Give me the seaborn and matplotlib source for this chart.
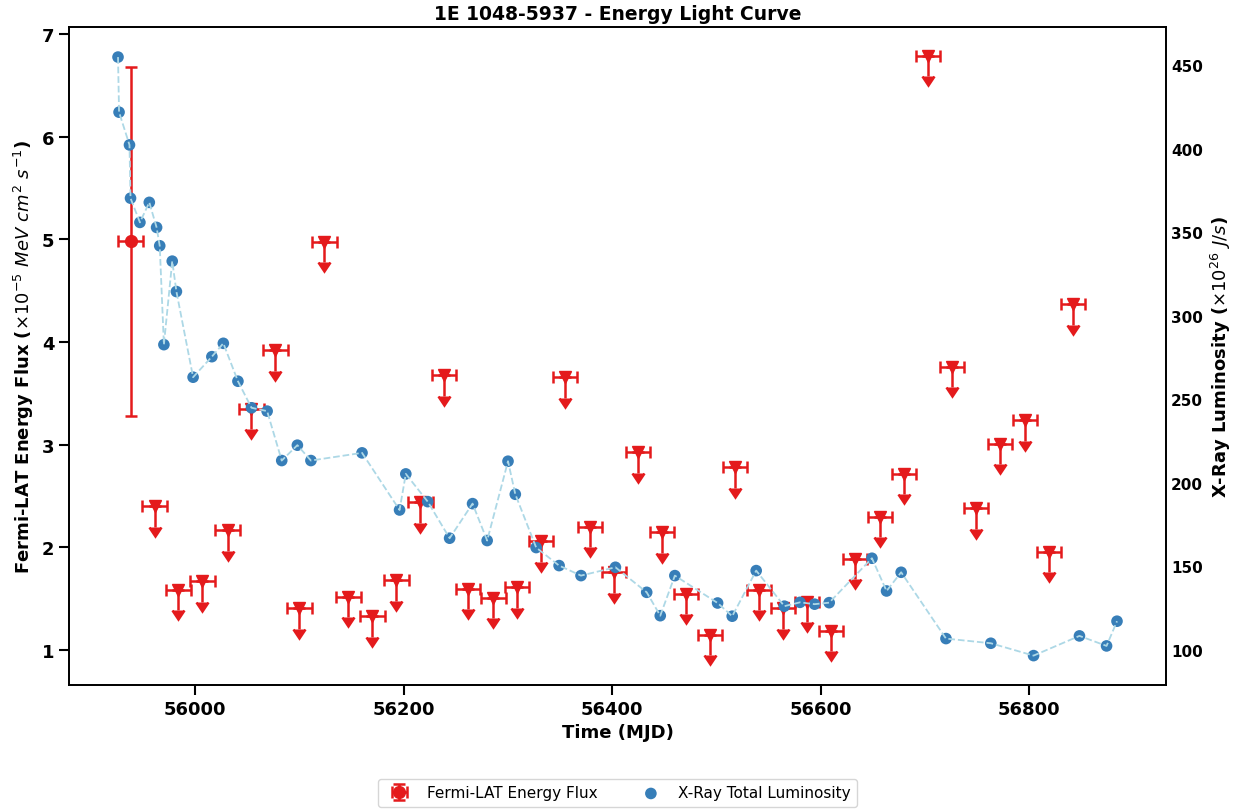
import matplotlib
matplotlib.use("Agg")
import matplotlib.pyplot as plt
import pandas as pd
import seaborn as sns

sns.set_style("white")
plt.rcParams.update({"text.color": "black", "axes.labelcolor": "black",
                     "xtick.color": "black", "ytick.color": "black",
                     "axes.edgecolor": "black"})

# X-ray total luminosity (x10^26 J/s) vs time (MJD)
xray_mjd = [55926, 55927, 55937, 55938, 55947, 55956, 55963, 55966, 55970, 55978,
            55982, 55998, 56016, 56027, 56041, 56054, 56069, 56083, 56098, 56111,
            56160, 56196, 56202, 56223, 56244, 56266, 56280, 56300, 56307, 56327,
            56349, 56370, 56403, 56433, 56446, 56460, 56501, 56515, 56538, 56565,
            56580, 56594, 56608, 56649, 56663, 56677, 56720, 56763, 56804, 56848,
            56874, 56884]
xray_lum = [455.0, 422.0, 402.4, 370.5, 356.0, 368.0, 353.0, 342.0, 282.8, 332.8,
            314.6, 263.3, 275.6, 283.6, 260.9, 245.0, 243.0, 213.4, 222.6, 213.4,
            218.0, 183.8, 205.4, 188.8, 166.9, 187.6, 165.5, 213.0, 193.2, 161.3,
            150.5, 144.5, 149.5, 134.5, 120.5, 144.5, 128.1, 120.2, 147.5, 126.2,
            128.5, 127.4, 128.3, 154.9, 135.3, 146.5, 106.8, 104.0, 96.6, 108.4,
            102.4, 117.2]

# Fermi-LAT detection (x10^-5 MeV cm^2 s^-1)
det_mjd = [55938]
det_flux = [4.985]
det_err = [1.70]

# Fermi-LAT upper limits
ul_mjd = [55961, 55984, 56007, 56031, 56054, 56077, 56100, 56124, 56147, 56170,
          56193, 56216, 56239, 56262, 56286, 56309, 56332, 56355, 56379, 56402,
          56425, 56448, 56471, 56494, 56518, 56541, 56564, 56587, 56610, 56633,
          56657, 56680, 56703, 56726, 56749, 56772, 56796, 56819, 56842]
ul_flux = [2.40, 1.59, 1.67, 2.17, 3.35, 3.92, 1.41, 4.98, 1.52, 1.33,
           1.68, 2.44, 3.68, 1.60, 1.51, 1.61, 2.06, 3.66, 2.20, 1.76,
           2.93, 2.15, 1.55, 1.15, 2.78, 1.59, 1.41, 1.47, 1.19, 1.89,
           2.30, 2.72, 6.79, 3.76, 2.38, 3.01, 3.24, 1.96, 4.37]

bin_half_width = 11.6
ul_arrow = 0.2

red, blue = sns.color_palette("Set1")[:2]

fig = plt.figure(figsize=(12.48, 8.12), dpi=100)
ax = fig.add_axes([0.05529, 0.15517, 0.87901, 0.81034])
ax2 = ax.twinx()

err_kw = dict(color=red, ecolor=red, capsize=4.2, elinewidth=1.8, capthick=1.8, ms=8.5)
ax.errorbar(det_mjd, det_flux, xerr=bin_half_width, yerr=det_err, fmt="o",
            label="Fermi-LAT Energy Flux", **err_kw)
ax.errorbar(ul_mjd, ul_flux, xerr=bin_half_width, yerr=ul_arrow, uplims=True,
            fmt="v", **err_kw)

xr = pd.DataFrame({"mjd": xray_mjd, "lum": xray_lum})
sns.scatterplot(data=xr, x="mjd", y="lum", ax=ax2, color=blue, s=70,
                edgecolor="none", label="X-Ray Total Luminosity", zorder=3)
sns.lineplot(data=xr, x="mjd", y="lum", ax=ax2, color="lightblue",
             linestyle="--", linewidth=1.3, sort=False, zorder=4)

ax.set_xlim(55879, 56931)
ax.set_ylim(0.66, 7.07)
ax2.set_ylim(79, 473)
ax.set_xticks([56000, 56200, 56400, 56600, 56800])
ax.set_yticks([1, 2, 3, 4, 5, 6, 7])
ax2.set_yticks([100, 150, 200, 250, 300, 350, 400, 450])

ax.set_title("1E 1048-5937 - Energy Light Curve", fontsize=13.5, fontweight="bold")
ax.set_xlabel("Time (MJD)", fontsize=13, fontweight="bold")
ax.set_ylabel(r"Fermi-LAT Energy Flux ($\times10^{-5}$ $MeV$ $cm^2$ $s^{-1}$)",
              fontsize=13, fontweight="bold")
ax2.set_ylabel(r"X-Ray Luminosity ($\times10^{26}$ $J/s$)",
               fontsize=13, fontweight="bold")

ax.tick_params(axis="both", which="major", bottom=True, left=True,
               length=7, width=1.5, labelsize=13)
ax2.tick_params(axis="y", length=0, labelsize=11)
for lab in ax.get_xticklabels() + ax.get_yticklabels() + ax2.get_yticklabels():
    lab.set_fontweight("bold")

for a in (ax, ax2):
    for sp in a.spines.values():
        sp.set_color("black")
        sp.set_linewidth(1.25)

h1, l1 = ax.get_legend_handles_labels()
h2, l2 = ax2.get_legend_handles_labels()
if ax2.get_legend() is not None:
    ax2.get_legend().remove()
fig.legend(h1 + h2, l1 + l2, loc="center", bbox_to_anchor=(0.4948, 0.0222),
           ncol=2, fontsize=11, frameon=True, columnspacing=2.5)

fig.savefig("out.png", dpi=100)
